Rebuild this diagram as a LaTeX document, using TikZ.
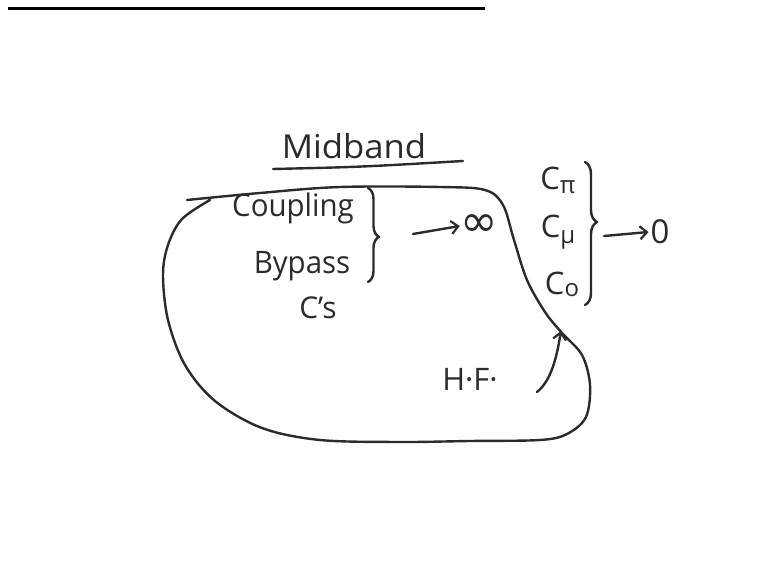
\documentclass[tikz,border=0pt]{standalone}
\usepackage{fontspec}
\setmainfont{Open Sans}
\newfontfamily\djv{DejaVu Sans}
\usetikzlibrary{arrows.meta,decorations.pathreplacing}
\definecolor{inkc}{HTML}{2B2B2B}
\begin{document}
\begin{tikzpicture}[x=1pt,y=-1pt,
  ink/.style={draw=inkc, line width=2.4pt, line cap=round, line join=round},
  lbl/.style={text=inkc, inner sep=0pt, outer sep=2pt},
  arr/.style={ink, -{Straight Barb[length=7pt,width=13pt,line width=2.2pt]}},
  brc/.style={ink, decorate, decoration={brace, amplitude=11pt}}]
\fill[white] (0,0) rectangle (764,580);
\useasboundingbox (0,0) rectangle (764,580);
% top border line
\coordinate (tl) at (8,9);
\coordinate (tr) at (485,9);
\draw[line width=3pt, black] (tl) -- (tr);
% title
\node[lbl, font=\fontsize{33}{33}\selectfont, xscale=1.05] (mid) at (354,146) {Midband};
\coordinate (ul1) at (273,169);
\coordinate (ul2) at (463,161);
\draw[ink] (ul1) .. controls (360,167) .. (ul2);
% blob
\draw[ink] plot[smooth, tension=0.55] coordinates {
  (187,200) (260,193) (340,187) (440,187) (485,190) (503,205) (514,240)
  (527,280) (545,312) (562,333) (582,355) (590,385) (586,417) (567,434)
  (540,440) (470,441) (400,442) (320,440) (262,428) (215,401) (185,365)
  (168,320) (163,275) (168,245) (182,219) (210,200)};
% left texts
\node[lbl, font=\fontsize{31}{31}\selectfont, xscale=0.95] (cpl) at (293,208) {Coupling};
\node[lbl, font=\fontsize{31}{31}\selectfont, xscale=0.95] (byp) at (302,266) {Bypass};
\node[lbl, font=\fontsize{30}{30}\selectfont] (cs) at (318,308) {C's};
\draw[brc, decoration={brace, amplitude=11pt, aspect=0.52}] (368,188) -- (368,282);
\coordinate (a1) at (413,234);
\node[lbl, font=\djv\fontsize{45}{45}\selectfont, outer sep=0.5pt] (inf) at (479,226) {∞};
\draw[arr] (a1) -- (inf.west);
% right capacitances
\node[lbl, font=\fontsize{31}{31}\selectfont] (cpi) at (558,180) {C\raisebox{-4pt}{\fontsize{24}{24}\selectfont π}};
\node[lbl, font=\fontsize{31}{31}\selectfont] (cmu) at (558,232) {C\raisebox{-6pt}{\fontsize{24}{24}\selectfont μ}};
\node[lbl, font=\fontsize{31}{31}\selectfont] (co) at (562,284) {C\raisebox{-2pt}{\fontsize{24}{24}\selectfont o}};
\draw[brc, decoration={brace, amplitude=12pt, aspect=0.42}] (585,162) -- (585,305);
\coordinate (a2) at (604,236);
\node[lbl, font=\fontsize{33}{33}\selectfont] (zero) at (660,232) {0};
\draw[arr] (a2) -- (zero.west);
% H.F.
\node[lbl, font=\fontsize{31}{31}\selectfont] (hf) at (470,379) {H·F·};
\coordinate (hft) at (537,392);
\coordinate (tip) at (561,331);
\draw[arr] (hft) .. controls (552,380) and (557,355) .. (tip);
\end{tikzpicture}
\end{document}
